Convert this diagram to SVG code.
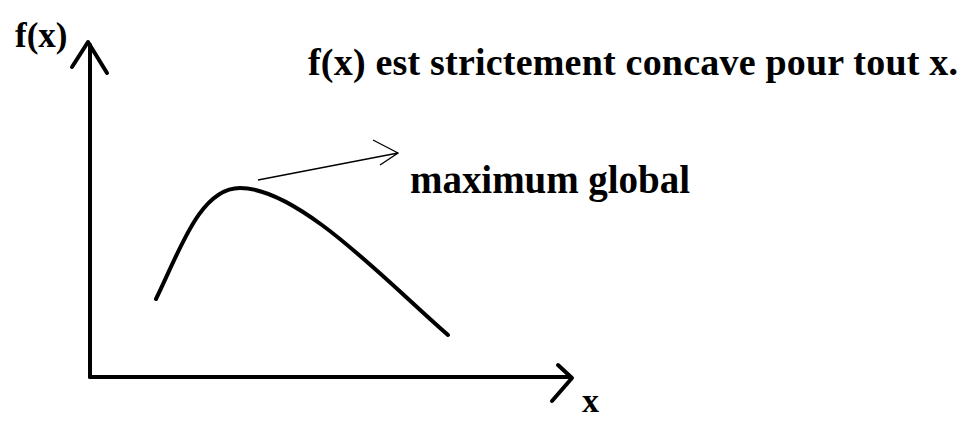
<svg xmlns="http://www.w3.org/2000/svg" width="977" height="427" viewBox="0 0 977 427">
<style>
.t{font-family:"Liberation Serif","Times New Roman",serif;font-weight:bold;fill:#000}
.ax{fill:none;stroke:#000;stroke-width:4;stroke-linecap:round;stroke-linejoin:round}
.thin{fill:none;stroke:#000;stroke-width:1.3}
</style>
<rect width="977" height="427" fill="#fff"/>
<g id="axes">
<path class="ax" d="M90,377 V45"/>
<path class="ax" d="M72,67 L88,42 L107,73"/>
<path class="ax" d="M90,377 H570"/>
<path class="ax" d="M558,365 L572,378 L552,401"/>
</g>
<g id="curve">
<path class="ax" d="M156,299 C180,250 200,188 240,188 C300,188 390,285 448,335"/>
</g>
<g id="connectors">
<path class="thin" d="M258,180 L398,153 M373,140 L398,153 L380,165"/>
</g>
<g id="labels">
<text class="t" x="15" y="47" font-size="35">f(x)</text>
<text class="t" x="582" y="412" font-size="34">x</text>
<text class="t" x="308" y="75" font-size="38" textLength="650">f(x) est strictement concave pour tout x.</text>
<text class="t" x="410" y="193" font-size="39" textLength="280">maximum global</text>
</g>
</svg>
